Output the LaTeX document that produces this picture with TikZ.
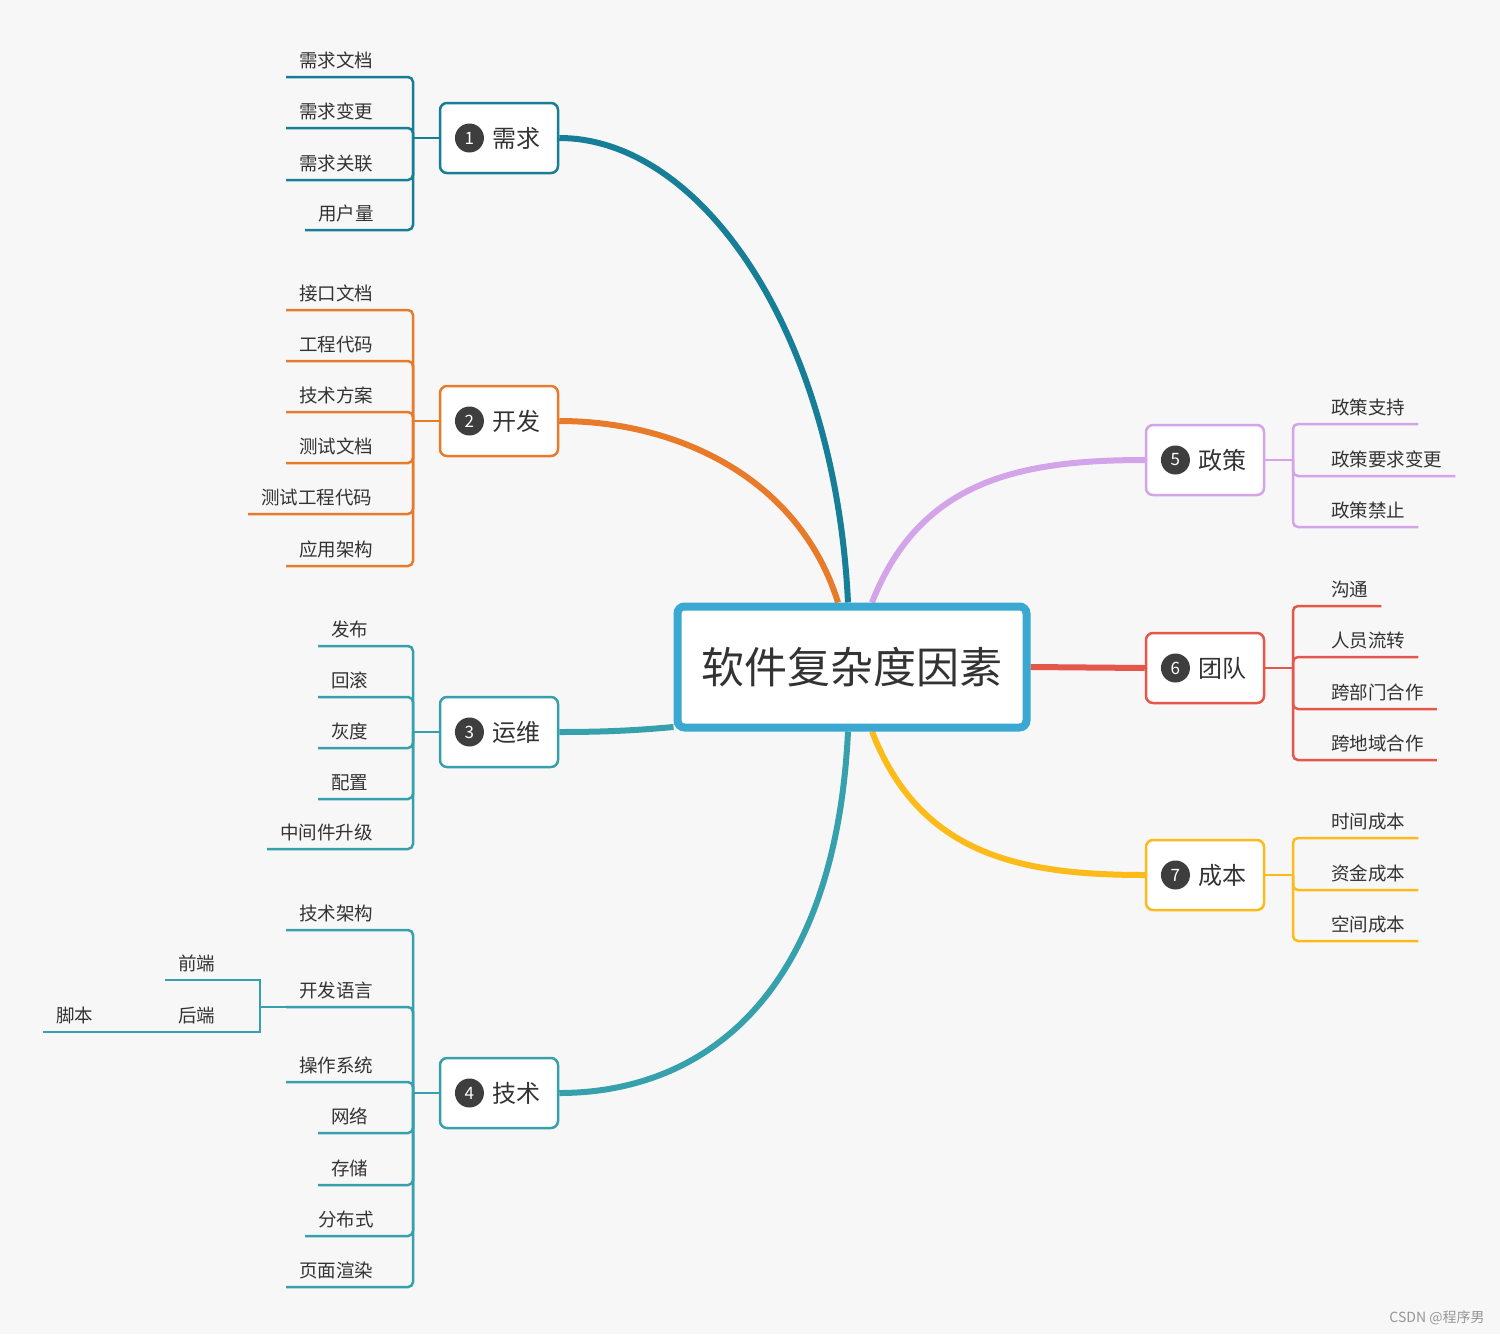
\documentclass[tikz,border=0pt]{standalone}
\usepackage{fontspec}
\newfontfamily\cjkfont{Noto Sans CJK SC}
\usepackage{xcolor}
\usepackage{tikz}
\usetikzlibrary{positioning, backgrounds}
\definecolor{paper}{RGB}{247, 247, 247}
\definecolor{ink}{RGB}{51, 51, 51}
\definecolor{badgegray}{RGB}{62, 62, 62}
\definecolor{hubblue}{RGB}{58, 168, 208}
\definecolor{xqteal}{RGB}{22, 126, 150}
\definecolor{kforange}{RGB}{232, 123, 42}
\definecolor{ywteal}{RGB}{54, 160, 172}
\definecolor{zclilac}{RGB}{212, 164, 234}
\definecolor{tdred}{RGB}{228, 87, 74}
\definecolor{cbyellow}{RGB}{253, 187, 26}
\definecolor{stampgray}{RGB}{150, 150, 150}

\begin{document}
\begin{tikzpicture}[x=1pt, y=-1pt,
    hub/.style={rectangle, draw=hubblue, fill=white, line width=8pt, rounded corners=7pt,
                minimum width=349pt, minimum height=121pt, text=ink,
                font=\cjkfont\fontsize{43}{50}\selectfont},
    topic/.style={rectangle, draw=#1, fill=white, line width=2.5pt, rounded corners=7pt,
                  minimum width=118pt, minimum height=70pt, text=ink,
                  font=\cjkfont\fontsize{24}{28}\selectfont,
                  execute at begin node={\hspace*{34pt}}},
    badge/.style={circle, fill=badgegray, text=white, inner sep=0pt, minimum size=29pt,
                  font=\cjkfont\fontsize{17}{20}\selectfont},
    leaf/.style={anchor=south west, inner xsep=13pt, inner ysep=6pt, text depth=3pt,
                 text=ink, font=\cjkfont\fontsize{18.5}{22}\selectfont},
    limb/.style={draw=#1, line width=6pt},
    twig/.style={draw=#1, line width=2.5pt, rounded corners=5pt},
    stamp/.style={text=stampgray, font=\cjkfont\fontsize{14}{16}\selectfont}
]

\begin{scope}[on background layer]
\fill[paper] (0,0) rectangle (1500,1334);
\end{scope}

% centre and main topics
\node[hub] (hub) at (852,667) {软件复杂度因素};

\node[topic=xqteal] (xq) at (499,138) {需求};
\node[topic=kforange] (kf) at (499,421) {开发};
\node[topic=ywteal] (yw) at (499,732) {运维};
\node[topic=ywteal] (js) at (499,1093) {技术};
\node[topic=zclilac] (zc) at (1205,460) {政策};
\node[topic=tdred] (td) at (1205,668) {团队};
\node[topic=cbyellow] (cb) at (1205,875) {成本};

\node[badge, right=16pt of xq.west] (xqn) {1};
\node[badge, right=16pt of kf.west] (kfn) {2};
\node[badge, right=16pt of yw.west] (ywn) {3};
\node[badge, right=16pt of js.west] (jsn) {4};
\node[badge, right=16pt of zc.west] (zcn) {5};
\node[badge, right=16pt of td.west] (tdn) {6};
\node[badge, right=16pt of cb.west] (cbn) {7};

% leaves, left side
\node[leaf] (xq1) at (286,77) {需求文档};
\node[leaf] (xq2) at (286,128) {需求变更};
\node[leaf] (xq3) at (286,180) {需求关联};
\node[leaf] (xq4) at (305,230) {用户量};

\node[leaf] (kf1) at (286,310) {接口文档};
\node[leaf] (kf2) at (286,361) {工程代码};
\node[leaf] (kf3) at (286,412) {技术方案};
\node[leaf] (kf4) at (286,463) {测试文档};
\node[leaf] (kf5) at (248,514) {测试工程代码};
\node[leaf] (kf6) at (286,566) {应用架构};

\node[leaf] (yw1) at (318,646) {发布};
\node[leaf] (yw2) at (318,697) {回滚};
\node[leaf] (yw3) at (318,748) {灰度};
\node[leaf] (yw4) at (318,799) {配置};
\node[leaf] (yw5) at (267,849) {中间件升级};

\node[leaf] (js1) at (286,930) {技术架构};
\node[leaf] (js2) at (286,1007) {开发语言};
\node[leaf] (js3) at (286,1082) {操作系统};
\node[leaf] (js4) at (318,1133) {网络};
\node[leaf] (js5) at (318,1185) {存储};
\node[leaf] (js6) at (305,1236) {分布式};
\node[leaf] (js7) at (286,1287) {页面渲染};

\node[leaf] (js2a) at (165,980) {前端};
\node[leaf] (js2b) at (165,1032) {后端};
\node[leaf] (js2c) at (43,1032) {脚本};

% leaves, right side
\node[leaf] (zc1) at (1318,424) {政策支持};
\node[leaf] (zc2) at (1318,476) {政策要求变更};
\node[leaf] (zc3) at (1318,527) {政策禁止};

\node[leaf] (td1) at (1318,606) {沟通};
\node[leaf] (td2) at (1318,657) {人员流转};
\node[leaf] (td3) at (1318,709) {跨部门合作};
\node[leaf] (td4) at (1318,760) {跨地域合作};

\node[leaf] (cb1) at (1318,838) {时间成本};
\node[leaf] (cb2) at (1318,890) {资金成本};
\node[leaf] (cb3) at (1318,941) {空间成本};

\node[stamp] (csdn) at (1437,1318) {CSDN @程序男};

% junctions
\coordinate (xqj) at (413,138);
\coordinate (kfj) at (413,421);
\coordinate (ywj) at (413,732);
\coordinate (jsj) at (413,1093);
\coordinate (js2j) at (260,1007);
\coordinate (zcj) at (1293,460);
\coordinate (tdj) at (1293,668);
\coordinate (cbj) at (1293,875);

% brackets
\draw[twig=xqteal] (xq.west) -- (xqj);
\foreach \i in {1,...,4} \draw[twig=xqteal] (xqj) |- (xq\i.south west);
\draw[twig=kforange] (kf.west) -- (kfj);
\foreach \i in {1,...,6} \draw[twig=kforange] (kfj) |- (kf\i.south west);
\draw[twig=ywteal] (yw.west) -- (ywj);
\foreach \i in {1,...,5} \draw[twig=ywteal] (ywj) |- (yw\i.south west);
\draw[twig=ywteal] (js.west) -- (jsj);
\foreach \i in {1,...,7} \draw[twig=ywteal] (jsj) |- (js\i.south west);
\draw[twig=ywteal, rounded corners=0pt] (js2.south west) -- (js2j);
\draw[twig=ywteal, rounded corners=0pt] (js2j) |- (js2a.south west);
\draw[twig=ywteal, rounded corners=0pt] (js2j) |- (js2b.south west);
\draw[twig=ywteal] (js2b.south west) -- (js2c.south west);

\draw[twig=zclilac] (zc.east) -- (zcj);
\foreach \i in {1,2,3} \draw[twig=zclilac] (zcj) |- (zc\i.south east);
\draw[twig=tdred] (td.east) -- (tdj);
\foreach \i in {1,...,4} \draw[twig=tdred] (tdj) |- (td\i.south east);
\draw[twig=cbyellow] (cb.east) -- (cbj);
\foreach \i in {1,2,3} \draw[twig=cbyellow] (cbj) |- (cb\i.south east);

% main branches
\begin{scope}[on background layer]
\draw[limb=xqteal] ([xshift=-4pt]hub.north) .. controls (835,330) and (700,138) .. (xq.east);
\draw[limb=kforange] ([xshift=-14pt]hub.north) .. controls (800,480) and (680,421) .. (kf.east);
\draw[limb=ywteal] ([yshift=-60pt]hub.west) .. controls (640,730) and (610,732) .. (yw.east);
\draw[limb=ywteal] ([xshift=-4pt]hub.south) .. controls (835,1000) and (700,1093) .. (js.east);
\draw[limb=zclilac] ([xshift=20pt]hub.north) .. controls (920,480) and (1020,460) .. (zc.west);
\draw[limb=tdred] (hub.east) -- (td.west);
\draw[limb=cbyellow] ([xshift=20pt]hub.south) .. controls (920,855) and (1020,875) .. (cb.west);
\end{scope}

\end{tikzpicture}
\end{document}
